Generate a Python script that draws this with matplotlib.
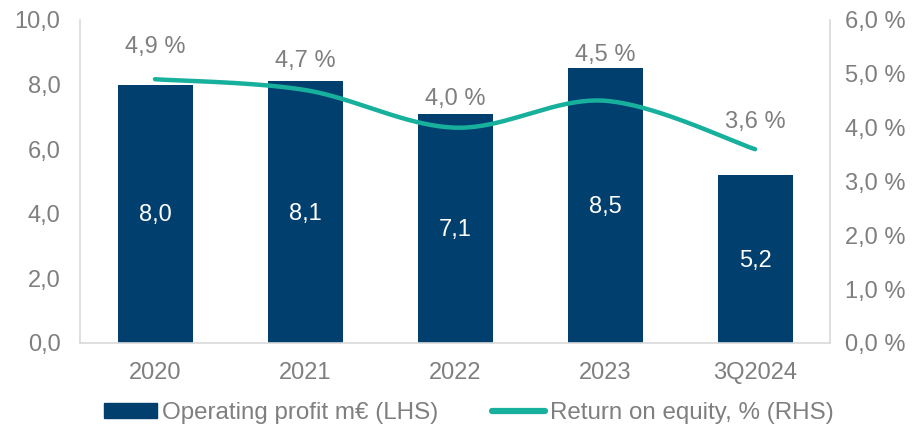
import numpy as np
import matplotlib.pyplot as plt
from matplotlib.lines import Line2D
from matplotlib.patches import Patch

plt.rcParams['font.family'] = ['Liberation Sans', 'DejaVu Sans']

categories = ['2020', '2021', '2022', '2023', '3Q2024']
operating_profit = [8.0, 8.1, 7.1, 8.5, 5.2]
roe = [4.9, 4.7, 4.0, 4.5, 3.6]
# label offset above the line point, in points
roe_label_offset = [15, 13, 13, 25, 12]

navy = '#003F6E'
teal = '#17B09C'
grey = '#7F7F7F'
spine = '#D9D9D9'
fs = 17


def fmt(v):
    return ('%.1f' % v).replace('.', ',')


def smooth(x, y, n=40):
    # catmull-rom style bezier, like excel smoothed lines
    x = np.asarray(x, float)
    y = np.asarray(y, float)
    px, py = [], []
    for i in range(len(x) - 1):
        x0, y0 = (x[i - 1], y[i - 1]) if i > 0 else (x[i], y[i])
        x3, y3 = (x[i + 2], y[i + 2]) if i + 2 < len(x) else (x[i + 1], y[i + 1])
        x1, y1, x2, y2 = x[i], y[i], x[i + 1], y[i + 1]
        c1x, c1y = x1 + (x2 - x0) / 6, y1 + (y2 - y0) / 6
        c2x, c2y = x2 - (x3 - x1) / 6, y2 - (y3 - y1) / 6
        t = np.linspace(0, 1, n)
        px.append((1-t)**3*x1 + 3*(1-t)**2*t*c1x + 3*(1-t)*t**2*c2x + t**3*x2)
        py.append((1-t)**3*y1 + 3*(1-t)**2*t*c1y + 3*(1-t)*t**2*c2y + t**3*y2)
    return np.concatenate(px), np.concatenate(py)


fig = plt.figure(figsize=(9.14, 4.26), dpi=100)
ax = fig.add_axes([80/914, 1 - 343/426, 750/914, 323/426])
x = np.arange(len(categories))
ax.bar(x, operating_profit, width=0.5, color=navy, zorder=2)
for xi, v in zip(x, operating_profit):
    ax.text(xi, v / 2 - 0.05, fmt(v), ha='center', va='center', color='white', fontsize=fs)
ax.set_xlim(-0.5, len(categories) - 0.5)
ax.set_ylim(0, 10)
ax.set_yticks(np.arange(0, 10.1, 2))
ax.set_yticklabels([fmt(v) for v in np.arange(0, 10.1, 2)])
ax.set_xticks(x)
ax.set_xticklabels(categories)
ax.tick_params(colors=grey, labelsize=fs, length=0)
ax.tick_params(axis='y', pad=14)
ax.tick_params(axis='x', pad=14)
for s in ['left', 'right', 'bottom']:
    ax.spines[s].set_color(spine)
    ax.spines[s].set_linewidth(1.2)
ax.spines['top'].set_visible(False)

ax2 = ax.twinx()
ax2.set_ylim(0, 6)
ax2.set_yticks(np.arange(0, 6.1, 1))
ax2.set_yticklabels([fmt(v) + ' %' for v in np.arange(0, 6.1, 1)])
ax2.tick_params(colors=grey, labelsize=fs, length=0, pad=11)
for s in ax2.spines.values():
    s.set_visible(False)
sx, sy = smooth(x, roe)
ax2.plot(sx, sy, color=teal, lw=3.2, solid_capstyle='round', zorder=3)
for xi, v, off in zip(x, roe, roe_label_offset):
    ax2.annotate(fmt(v) + ' %', (xi, v), xytext=(0, off), textcoords='offset points',
                 ha='center', va='bottom', color=grey, fontsize=fs)

handles = [Patch(color=navy), Line2D([0], [0], color=teal, lw=4.5, solid_capstyle='round')]
fig.legend(handles, ['Operating profit m€ (LHS)', 'Return on equity, % (RHS)'],
           loc='center', bbox_to_anchor=(0.513, 1 - 413/426), ncol=2, frameon=False,
           prop={'size': 17.4}, labelcolor=grey, handlelength=2.2, handleheight=0.55,
           handletextpad=0.2, columnspacing=2.2, borderpad=0)

fig.savefig('out.png', dpi=100)
